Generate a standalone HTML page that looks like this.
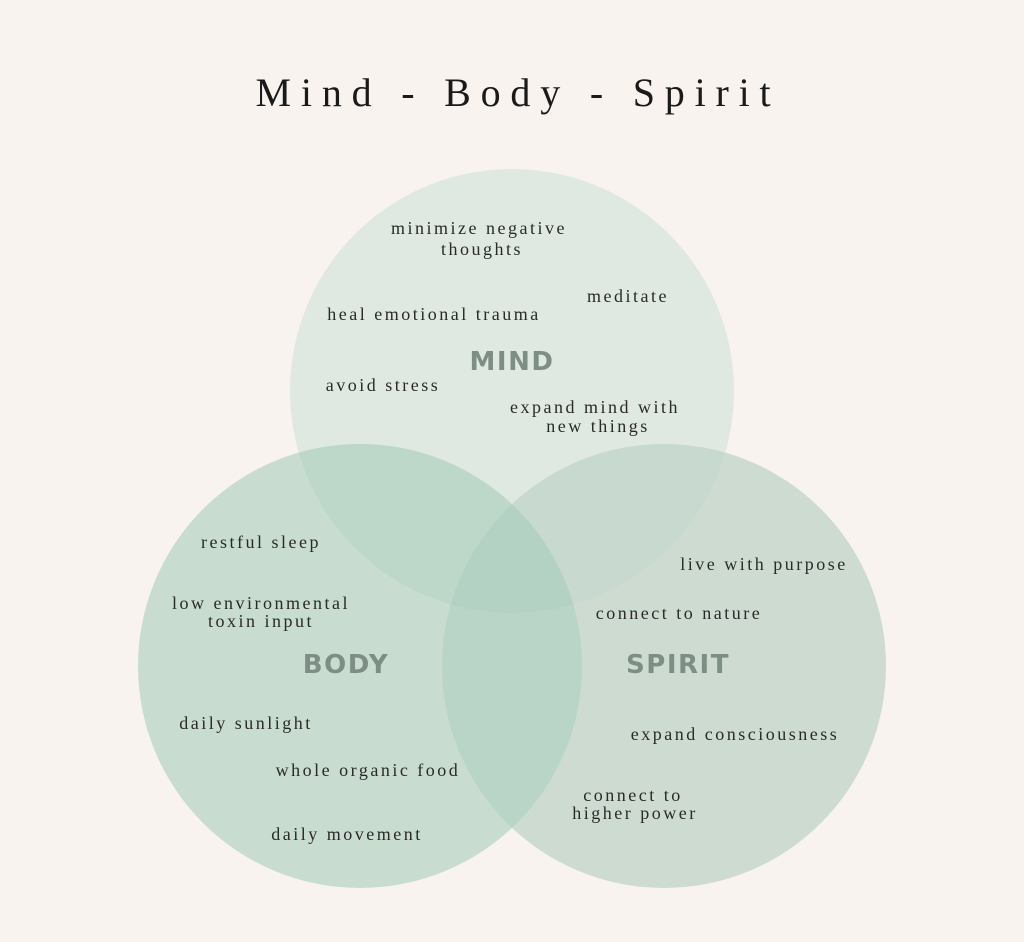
<!DOCTYPE html>
<html><head><style>
html,body{margin:0;padding:0;background:#f8f3ef;}
svg{display:block}
.t{font-family:"Liberation Serif",serif;font-size:18px;fill:#2a2a2a;letter-spacing:2.5px;text-anchor:middle}
.L{font-family:"DejaVu Sans","Liberation Sans",sans-serif;font-weight:bold;font-size:26px;fill:#7d8f84;letter-spacing:1.5px;text-anchor:middle}
</style></head><body>
<svg width="1024" height="942" viewBox="0 0 1024 942">
<defs>
<clipPath id="cm"><circle cx="512" cy="391" r="222"/></clipPath>
<clipPath id="cb"><circle cx="360" cy="666" r="222"/></clipPath>
<clipPath id="cs"><circle cx="664" cy="666" r="222"/></clipPath>
</defs>
<rect width="1024" height="942" fill="#f8f3ef"/>
<text x="518" y="106" text-anchor="middle" font-family="Liberation Serif,serif" font-size="40" letter-spacing="9.8" fill="#1a1a1a">Mind - Body - Spirit</text>
<circle cx="512" cy="391" r="222" fill="#dfe9e1"/>
<circle cx="360" cy="666" r="222" fill="#c8dccf"/>
<circle cx="664" cy="666" r="222" fill="#cddbd1"/>
<circle cx="360" cy="666" r="222" fill="#bdd8c9" clip-path="url(#cm)"/>
<circle cx="664" cy="666" r="222" fill="#c8dad0" clip-path="url(#cm)"/>
<g clip-path="url(#cb)"><circle cx="664" cy="666" r="222" fill="#b9d5c7"/></g>
<g clip-path="url(#cm)"><g clip-path="url(#cb)"><circle cx="664" cy="666" r="222" fill="#b4d2c3"/></g></g>
<text class="L" x="512" y="370">MIND</text>
<text class="L" x="346" y="673">BODY</text>
<text class="L" x="678" y="673">SPIRIT</text>
<text class="t" x="479" y="234">minimize negative</text>
<text class="t" x="482" y="255">thoughts</text>
<text class="t" x="628" y="302">meditate</text>
<text class="t" x="434" y="320">heal emotional trauma</text>
<text class="t" x="383" y="391">avoid stress</text>
<text class="t" x="595" y="413">expand mind with</text>
<text class="t" x="598" y="432">new things</text>
<text class="t" x="261" y="548">restful sleep</text>
<text class="t" x="764" y="570">live with purpose</text>
<text class="t" x="261" y="609">low environmental</text>
<text class="t" x="261" y="627">toxin input</text>
<text class="t" x="679" y="619">connect to nature</text>
<text class="t" x="246" y="729">daily sunlight</text>
<text class="t" x="735" y="740">expand consciousness</text>
<text class="t" x="368" y="776">whole organic food</text>
<text class="t" x="633" y="801">connect to</text>
<text class="t" x="635" y="819">higher power</text>
<text class="t" x="347" y="840">daily movement</text>
</svg>
</body></html>
